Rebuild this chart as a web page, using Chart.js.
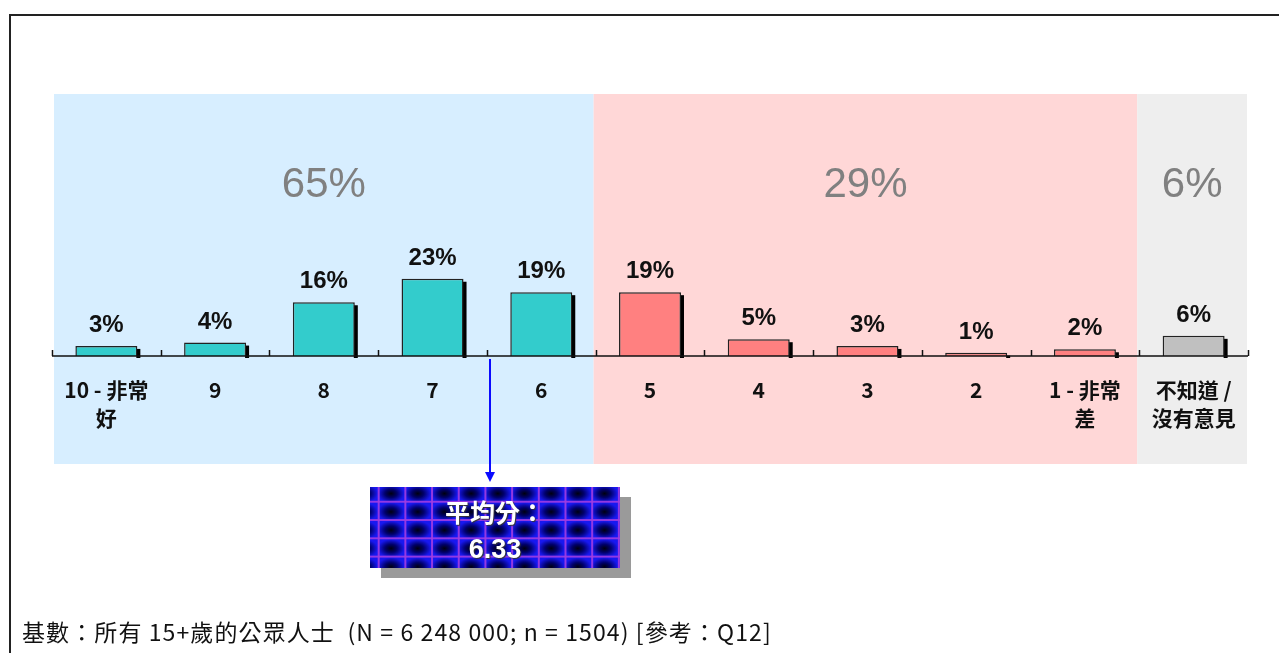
<!DOCTYPE html>
<html>
<head>
<meta charset="utf-8">
<script src="https://cdn.jsdelivr.net/npm/chart.js@4"></script>
<style>
  html,body{margin:0;padding:0;background:#fff;}
  body{width:1279px;height:653px;position:relative;overflow:hidden;font-family:"Noto Sans CJK TC","Noto Sans",sans-serif;}
  #frame{position:absolute;left:9px;top:14px;width:1300px;height:700px;border-top:2px solid #222;border-left:2px solid #222;box-sizing:border-box;}
  #wrap{position:absolute;left:0;top:0;width:1279px;height:653px;}
  #shadow{position:absolute;left:381px;top:497px;width:250px;height:81px;background:#9a9a9a;}
  #avg{position:absolute;left:370px;top:487px;width:250px;height:81px;
    background-color:#1a1aff;
    background-image:
      linear-gradient(90deg, rgba(160,60,225,0.9) 0 2px, transparent 2px),
      linear-gradient(0deg, rgba(160,60,225,0.9) 0 2px, transparent 2px),
      radial-gradient(closest-side, #000010 0%, #00006a 45%, #1818f0 100%);
    background-size:26.7px 18.3px;
    background-position:7.7px 15.7px;
    color:#fff;text-align:center;font-weight:bold;
    text-shadow:1px 1px 1px #333;}
  #avg .t{position:absolute;left:0;right:0;top:6px;font-size:25px;line-height:36px;}
  #avg .n{position:absolute;left:0;right:0;top:44px;font-family:"Liberation Sans",Arial,sans-serif;font-size:27px;line-height:36px;}
  #footer{position:absolute;left:22px;top:615px;font-size:23px;line-height:32px;letter-spacing:1.1px;color:#111;white-space:pre;}
  #arrow{position:absolute;left:0;top:0;}
</style>
</head>
<body>
<div id="frame"></div>
<div id="wrap"><canvas id="c" width="1279" height="653"></canvas></div>
<svg id="arrow" width="1279" height="653">
  <line x1="490" y1="359" x2="490" y2="474" stroke="#0a0aff" stroke-width="2"/>
  <polygon points="485,472 495,472 490,482" fill="#0a0aff"/>
</svg>
<div id="shadow"></div>
<div id="avg"><div class="t">平均分：</div><div class="n">6.33</div></div>
<div id="footer">基數：所有 15+歲的公眾人士  (N = 6 248 000; n = 1504) [參考：Q12]</div>
<script>
// ---- data ----
const categories = [["10 - 非常","好"],"9","8","7","6","5","4","3","2",["1 - 非常","差"],["不知道 /","沒有意見"]];
const values = [3, 4, 16, 23, 19, 19, 5, 3, 1, 2, 6];
const barColors = ["#33CCCC","#33CCCC","#33CCCC","#33CCCC","#33CCCC","#FF8080","#FF8080","#FF8080","#FF8080","#FF8080","#C0C0C0"];
const groupLabels = ["65%", "29%", "6%"];
const groupFrom = [0, 5, 10];
const groupTo = [4, 9, 10];
const groupColors = ["#D7EEFF", "#FFD7D7", "#EEEEEE"];

const bandsPlugin = {
  id: 'bands',
  beforeDraw(chart) {
    const {ctx, chartArea, scales} = chart;
    const x = scales.x;
    const half = (x.getPixelForValue(1) - x.getPixelForValue(0)) / 2;
    ctx.save();
    for (let g = 0; g < groupLabels.length; g++) {
      let l = x.getPixelForValue(groupFrom[g]) - half;
      let r = x.getPixelForValue(groupTo[g]) + half;
      if (g === 0) l += 2;
      if (g === groupLabels.length - 1) r -= 1;
      if (g > 0) l -= 2;
      if (g < groupLabels.length - 1) r -= 2;
      ctx.fillStyle = groupColors[g];
      ctx.fillRect(l, chartArea.top, r - l, chartArea.bottom - chartArea.top + 108);
      ctx.fillStyle = '#808080';
      ctx.font = '42px "Liberation Sans", Arial, sans-serif';
      ctx.textAlign = 'center';
      ctx.textBaseline = 'middle';
      ctx.fillText(groupLabels[g], (l + r) / 2, chartArea.top + 91);
    }
    ctx.restore();
  },
  beforeDatasetsDraw(chart) {
    const {ctx} = chart;
    const meta = chart.getDatasetMeta(0);
    ctx.save();
    ctx.fillStyle = '#000';
    meta.data.forEach((bar) => {
      const right = bar.x + bar.width / 2;
      ctx.fillRect(right - 1, bar.y + 3, 4, bar.base - bar.y - 1);
    });
    ctx.restore();
  },
  afterDatasetsDraw(chart) {
    const {ctx, chartArea, scales} = chart;
    const x = scales.x;
    const half = (x.getPixelForValue(1) - x.getPixelForValue(0)) / 2;
    ctx.save();
    // axis line and upward ticks
    ctx.strokeStyle = '#111';
    ctx.lineWidth = 1.5;
    ctx.beginPath();
    ctx.moveTo(chartArea.left, chartArea.bottom);
    ctx.lineTo(chartArea.right, chartArea.bottom);
    for (let i = 0; i <= categories.length; i++) {
      const px = Math.round(x.getPixelForValue(0) - half + i * 2 * half) + 0.5;
      ctx.moveTo(px, chartArea.bottom);
      ctx.lineTo(px, chartArea.bottom - 6);
    }
    ctx.stroke();
    // value labels
    const meta = chart.getDatasetMeta(0);
    ctx.fillStyle = '#111';
    ctx.font = 'bold 24px "Liberation Sans", Arial, sans-serif';
    ctx.textAlign = 'center';
    ctx.textBaseline = 'alphabetic';
    meta.data.forEach((bar, i) => {
      ctx.fillText(values[i] + '%', bar.x, bar.y - 14);
    });
    ctx.restore();
  }
};

new Chart(document.getElementById('c'), {
  type: 'bar',
  data: {
    labels: categories,
    datasets: [{
      data: values,
      backgroundColor: barColors,
      borderColor: '#222',
      borderWidth: 1.5,
      borderSkipped: 'bottom',
      barPercentage: 0.57,
      categoryPercentage: 1.0
    }]
  },
  options: {
    responsive: false,
    animation: false,
    events: [],
    layout: { padding: { left: 52, right: 31, top: 94, bottom: 177 } },
    plugins: { legend: { display: false }, tooltip: { enabled: false } },
    scales: {
      x: {
        grid: { display: false, drawTicks: false },
        border: { display: false },
        ticks: {
          color: '#111',
          font: { family: '"Noto Sans CJK TC", sans-serif', size: 21, weight: 'bold', lineHeight: 1.33 },
          padding: 20,
          autoSkip: false,
          maxRotation: 0
        },
        afterFit(s) { s.height = 120; }
      },
      y: { display: false, min: 0, max: 78 }
    }
  },
  plugins: [bandsPlugin]
});
</script>
</body>
</html>
